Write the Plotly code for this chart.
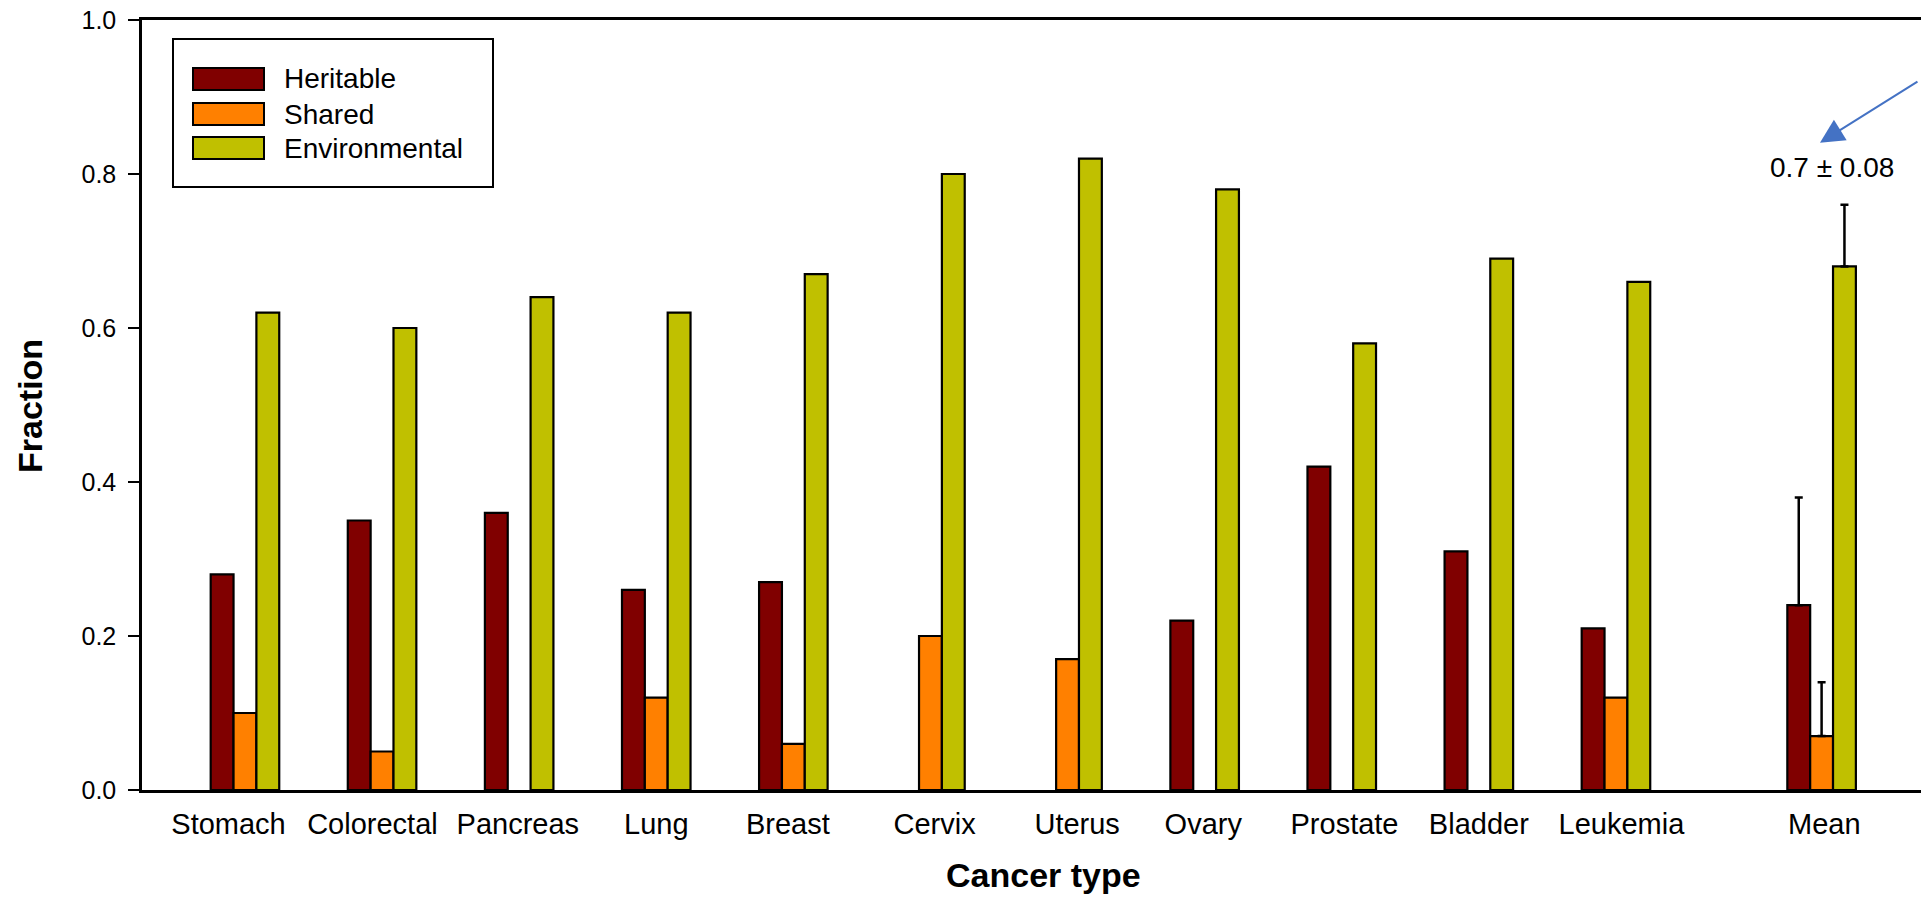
import plotly.graph_objects as go

# Fractions of cancer risk by source, per cancer type
categories = ["Stomach", "Colorectal", "Pancreas", "Lung", "Breast", "Cervix",
              "Uterus", "Ovary", "Prostate", "Bladder", "Leukemia", "Mean"]
positions = [1, 2, 3, 4, 5, 6, 7, 8, 9, 10, 11, 12.5]
label_positions = [0.88, 1.93, 2.99, 4.0, 4.96, 6.03, 7.07, 7.99, 9.02, 10.0, 11.04, 12.52]

heritable = [0.28, 0.35, 0.36, 0.26, 0.27, None, None, 0.22, 0.42, 0.31, 0.21, 0.24]
shared = [0.10, 0.05, None, 0.12, 0.06, 0.20, 0.17, None, None, None, 0.12, 0.07]
environmental = [0.62, 0.60, 0.64, 0.62, 0.67, 0.80, 0.82, 0.78, 0.58, 0.69, 0.66, 0.68]

# Upper error (SD) of the mean bars
heritable_mean_err = 0.14
shared_mean_err = 0.07
environmental_mean_err = 0.08

series_names = ["Heritable", "Shared", "Environmental"]
series_colors = ["#800000", "#FF8000", "#C0C000"]

yticks = [0.0, 0.2, 0.4, 0.6, 0.8, 1.0]
ytick_text = ["0.0", "0.2", "0.4", "0.6", "0.8", "1.0"]

FONT = "Liberation Sans, Arial, sans-serif"

W, H = 1921, 900
ML, MR, MT, MB = 142, 0, 20, 110

fig = go.Figure()
for name, vals, err, col in zip(series_names,
                                [heritable, shared, environmental],
                                [heritable_mean_err, shared_mean_err, environmental_mean_err],
                                series_colors):
    outline = dict(color="black", width=2.2)
    # individual cancer types
    fig.add_trace(go.Bar(
        x=positions[:-1], y=vals[:-1], name=name, offsetgroup=name,
        marker=dict(color=col, line=outline), showlegend=False,
    ))
    # mean across types, with its upper error bar
    fig.add_trace(go.Bar(
        x=positions[-1:], y=vals[-1:], name=name, offsetgroup=name,
        marker=dict(color=col, line=outline), showlegend=False,
        error_y=dict(type="data", symmetric=False, array=[err], arrayminus=[0],
                     color="black", thickness=2.5, width=4),
    ))

fig.update_layout(
    width=W, height=H,
    margin=dict(l=ML, r=MR, t=MT, b=MB, pad=0),
    barmode="group", bargap=0.5, bargroupgap=0,
    plot_bgcolor="white", paper_bgcolor="white",
    font=dict(family=FONT, color="black"),
    xaxis=dict(
        range=[0.249, 13.225],
        tickmode="array", tickvals=label_positions, ticktext=categories,
        ticks="", showgrid=False, zeroline=False,
        showline=True, linecolor="black", linewidth=2.5, mirror=True,
        tickfont=dict(size=29, family=FONT),
        ticklabelstandoff=6,
    ),
    yaxis=dict(
        range=[0, 1],
        tickmode="array", tickvals=yticks, ticktext=ytick_text,
        ticks="outside", ticklen=11, tickwidth=2, tickcolor="black",
        showgrid=False, zeroline=False,
        showline=True, linecolor="black", linewidth=2.5,
        tickfont=dict(size=25, family=FONT),
        ticklabelstandoff=7,
    ),
)

plot_w = W - ML - MR
plot_h = H - MT - MB


def px_x(p):
    return (p - ML) / plot_w


def px_y(p):
    return (H - MB - p) / plot_h


annotations = [
    dict(xref="paper", yref="paper", x=px_x(1043), y=px_y(875),
         text="<b>Cancer type</b>", showarrow=False, xanchor="center", yanchor="middle",
         font=dict(size=34, family=FONT, color="black")),
    dict(xref="paper", yref="paper", x=px_x(30), y=px_y(406),
         text="<b>Fraction</b>", showarrow=False, textangle=-90,
         xanchor="center", yanchor="middle",
         font=dict(size=34, family=FONT, color="black")),
]

# Legend drawn as a framed box with wide swatches
shapes = [dict(type="rect", xref="paper", yref="paper",
               x0=px_x(173), x1=px_x(493), y0=px_y(187), y1=px_y(39),
               line=dict(color="black", width=2), fillcolor="white", layer="above")]
row_centers = [79, 114, 148]
for name, col, cy in zip(series_names, series_colors, row_centers):
    shapes.append(dict(type="rect", xref="paper", yref="paper",
                       x0=px_x(193), x1=px_x(264), y0=px_y(cy + 11), y1=px_y(cy - 11),
                       line=dict(color="black", width=2), fillcolor=col, layer="above"))
    annotations.append(dict(xref="paper", yref="paper", x=px_x(282), y=px_y(cy),
                            text=name, showarrow=False, xanchor="left", yanchor="middle",
                            font=dict(size=28, family=FONT, color="black")))

# Mean environmental fraction, labelled and pointed out
env_mean = environmental[-1]
annotations.append(dict(x=12.575, y=0.809, xref="x", yref="y",
                        text=f"{round(env_mean, 1)} ± {environmental_mean_err}",
                        showarrow=False,
                        font=dict(size=28, family=FONT, color="black")))
annotations.append(dict(x=12.488, y=0.8406, xref="x", yref="y",
                        ax=99, ay=-62, axref="pixel", ayref="pixel",
                        text="", showarrow=True, arrowhead=2, arrowsize=2.4,
                        arrowwidth=2, arrowcolor="#4472C4"))

fig.update_layout(shapes=shapes, annotations=annotations)

fig.write_html("out.html")
